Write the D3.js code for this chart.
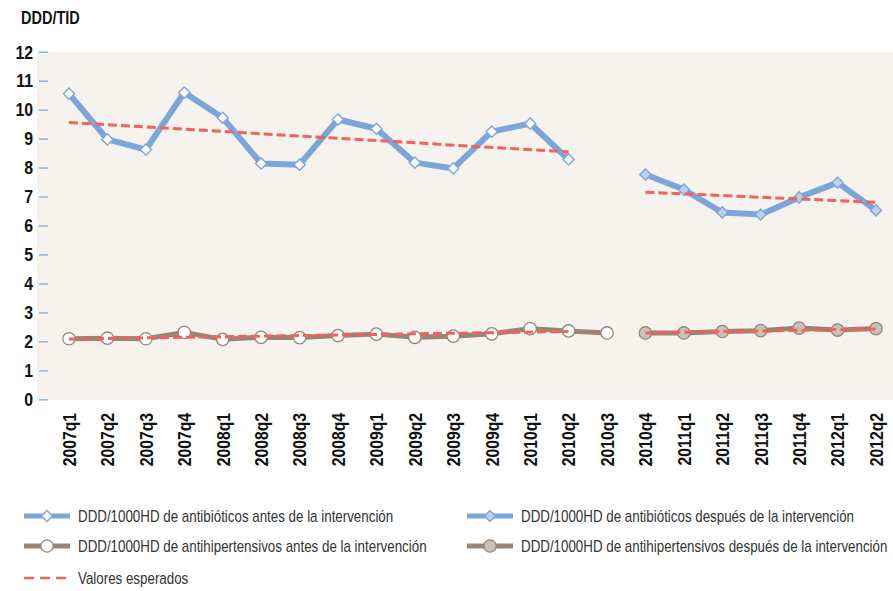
<!DOCTYPE html>
<html>
<head>
<meta charset="utf-8">
<script src="https://cdn.jsdelivr.net/npm/d3@7"></script>
<style>
  html, body { margin: 0; padding: 0; background: #ffffff; }
  svg { display: block; }
</style>
</head>
<body>
<svg id="chart" width="893" height="591"></svg>
<script>
// Quarters on the x axis
const quarters = ["2007q1","2007q2","2007q3","2007q4","2008q1","2008q2","2008q3","2008q4",
  "2009q1","2009q2","2009q3","2009q4","2010q1","2010q2","2010q3","2010q4",
  "2011q1","2011q2","2011q3","2011q4","2012q1","2012q2"];

const yTicks = [0,1,2,3,4,5,6,7,8,9,10,11,12];

// Antibiotics, DDD per 1000 inhabitants-day
const abxBeforeQ = quarters.slice(0, 14);
const abxBefore = [10.55, 8.97, 8.62, 10.59, 9.72, 8.14, 8.10, 9.66, 9.34, 8.17, 7.97, 9.24, 9.52, 8.28];
const abxAfterQ = quarters.slice(15);
const abxAfter = [7.76, 7.24, 6.45, 6.38, 6.97, 7.48, 6.52];

// Antihypertensives
const ahtBeforeQ = quarters.slice(0, 15);
const ahtBefore = [2.09, 2.11, 2.09, 2.31, 2.07, 2.14, 2.13, 2.20, 2.25, 2.14, 2.18, 2.26, 2.44, 2.36, 2.29];
const ahtAfterQ = quarters.slice(15);
const ahtAfter = [2.29, 2.29, 2.34, 2.37, 2.46, 2.39, 2.44];

// Expected values (fitted trends): start and end of each segment
const trendAbxBefore = [{q: "2007q1", v: 9.56}, {q: "2010q2", v: 8.54}];
const trendAbxAfter = [{q: "2010q4", v: 7.15}, {q: "2012q2", v: 6.80}];
const trendAhtBefore = [{q: "2007q1", v: 2.08}, {q: "2010q2", v: 2.34}];
const trendAhtAfter = [{q: "2010q4", v: 2.29}, {q: "2012q2", v: 2.43}];

const legendItems = [
  {label: "DDD/1000HD de antibióticos antes de la intervención", kind: "abxBefore"},
  {label: "DDD/1000HD de antibióticos después de la intervención", kind: "abxAfter"},
  {label: "DDD/1000HD de antihipertensivos antes de la intervención", kind: "ahtBefore"},
  {label: "DDD/1000HD de antihipertensivos después de la intervención", kind: "ahtAfter"},
  {label: "Valores esperados", kind: "trend"}
];

const BLUE = "#7ca6da", BLUE_FILL = "#bdd1ec";
const BROWN = "#978675", BROWN_FILL = "#c9c0b8";
const RED = "#ef635c";
// Condensed look: Liberation Sans squeezed horizontally
const FONT = "'Liberation Sans', Arial, sans-serif";

const svg = d3.select("#chart");

const x = d3.scalePoint().domain(quarters).range([69, 876]);
const y = d3.scaleLinear().domain([0, 12]).range([399.3, 51.7]);

// plot background
svg.append("rect")
  .attr("x", 37).attr("y", y(12))
  .attr("width", 893 - 37).attr("height", y(0) - y(12) + 0.5)
  .attr("fill", "#f6f3ef");

// title
svg.append("text")
  .attr("transform", "translate(21,24) scale(0.82,1)")
  .attr("font-family", FONT).attr("font-weight", "bold").attr("font-size", 17.7)
  .attr("fill", "#111").text("DDD/TID");

// y axis: short blue ticks and bold labels
const yAxis = d3.axisLeft(y).tickValues(yTicks).tickSize(9).tickPadding(6).tickFormat(d3.format("d"));
const gy = svg.append("g").attr("transform", "translate(48,0)").call(yAxis);
gy.select(".domain").remove();
gy.selectAll(".tick line").attr("stroke", "#8fb2dd").attr("stroke-width", 1.5);
gy.selectAll(".tick text")
  .attr("x", 0).attr("dy", "0.35em")
  .attr("transform", "translate(-15,0) scale(0.88,1)")
  .attr("font-family", FONT).attr("font-weight", "bold").attr("font-size", 18)
  .attr("fill", "#111");

// x axis: rotated bold quarter labels
const xAxis = d3.axisBottom(x).tickSize(0).tickPadding(0);
const gx = svg.append("g").attr("transform", "translate(0,413)").call(xAxis);
gx.select(".domain").remove();
gx.selectAll(".tick text")
  .attr("font-family", FONT).attr("font-weight", "bold").attr("font-size", 17.5)
  .attr("fill", "#111")
  .attr("text-anchor", "end")
  .attr("transform", "rotate(-90) scale(0.9,1)")
  .attr("x", 0).attr("y", 0).attr("dx", 0).attr("dy", "0.36em");

const line = d3.line().x(d => x(d.q)).y(d => y(d.v));
const zip = (qs, vs) => qs.map((q, i) => ({q, v: vs[i]}));

const diamond = d3.symbol().type(d3.symbolDiamond2).size(80);

function series(data, color, width, marker, fill) {
  const g = svg.append("g");
  g.append("path").datum(data)
    .attr("d", line).attr("fill", "none")
    .attr("stroke", color).attr("stroke-width", width)
    .attr("stroke-linejoin", "round");
  if (marker === "diamond") {
    g.selectAll("path.m").data(data).join("path").attr("class", "m")
      .attr("d", diamond)
      .attr("transform", d => `translate(${x(d.q)},${y(d.v)})`)
      .attr("fill", fill).attr("stroke", color).attr("stroke-width", 1.4);
  } else {
    g.selectAll("circle").data(data).join("circle")
      .attr("cx", d => x(d.q)).attr("cy", d => y(d.v)).attr("r", 6.2)
      .attr("fill", fill).attr("stroke", color).attr("stroke-width", 1.3);
  }
}

function trend(data) {
  svg.append("path").datum(data)
    .attr("d", line).attr("fill", "none")
    .attr("stroke", RED).attr("stroke-width", 3)
    .attr("stroke-dasharray", "9,4");
}

series(zip(ahtBeforeQ, ahtBefore), BROWN, 5, "circle", "#ffffff");
series(zip(ahtAfterQ, ahtAfter), BROWN, 5, "circle", BROWN_FILL);
trend(trendAhtBefore);
trend(trendAhtAfter);
series(zip(abxBeforeQ, abxBefore), BLUE, 6, "diamond", "#ffffff");
series(zip(abxAfterQ, abxAfter), BLUE, 6, "diamond", BLUE_FILL);
trend(trendAbxBefore);
trend(trendAbxAfter);

// legend
const legendPos = [
  {x: 24, y: 516}, {x: 467, y: 516},
  {x: 24, y: 546}, {x: 467, y: 546},
  {x: 24, y: 578}
];
legendItems.forEach((item, i) => {
  const p = legendPos[i];
  const g = svg.append("g").attr("transform", `translate(${p.x},${p.y})`);
  if (item.kind === "trend") {
    g.append("line").attr("x1", 0).attr("x2", 46).attr("y1", 0).attr("y2", 0)
      .attr("stroke", RED).attr("stroke-width", 2.5).attr("stroke-dasharray", "10,6");
  } else {
    const isAbx = item.kind.startsWith("abx");
    const color = isAbx ? BLUE : BROWN;
    const after = item.kind.endsWith("After");
    g.append("line").attr("x1", 0).attr("x2", 46).attr("y1", 0).attr("y2", 0)
      .attr("stroke", color).attr("stroke-width", 5);
    if (isAbx) {
      g.append("path").attr("d", diamond).attr("transform", "translate(23,0)")
        .attr("fill", after ? BLUE_FILL : "#ffffff").attr("stroke", color).attr("stroke-width", 1.4);
    } else {
      g.append("circle").attr("cx", 23).attr("cy", 0).attr("r", 6.2)
        .attr("fill", after ? BROWN_FILL : "#ffffff").attr("stroke", color).attr("stroke-width", 1.3);
    }
  }
  g.append("text")
    .attr("transform", "translate(54,0) scale(0.835,1)")
    .attr("dy", "0.35em")
    .attr("font-family", FONT).attr("font-size", 16).attr("fill", "#333")
    .text(item.label);
});
</script>
</body>
</html>
